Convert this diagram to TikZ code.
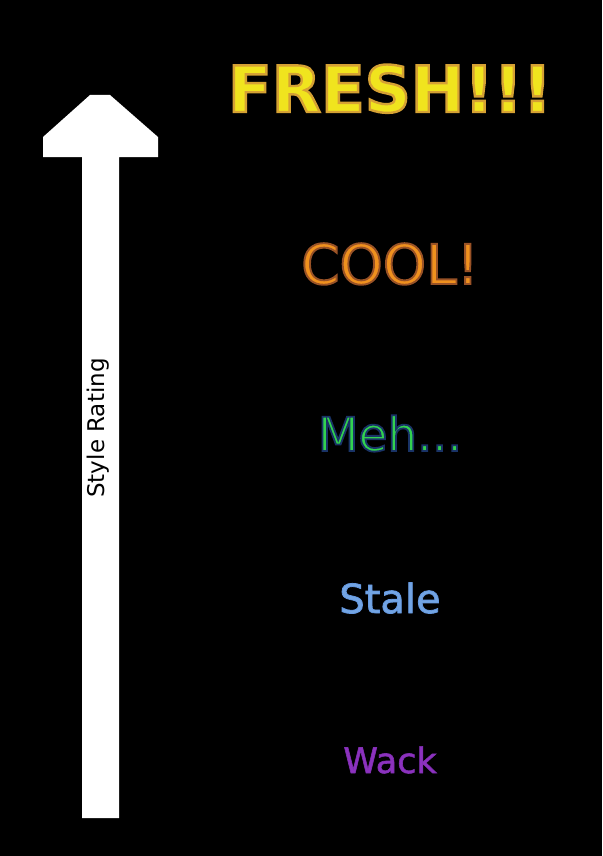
\documentclass[tikz,border=0pt]{standalone}
\usepackage{fontspec}
\setmainfont{DejaVu Sans}
\definecolor{freshfill}{RGB}{240,228,30}
\definecolor{coolfill}{RGB}{240,145,30}
\definecolor{mehfill}{RGB}{50,210,80}
\definecolor{stalefill}{RGB}{115,165,228}
\definecolor{wackfill}{RGB}{140,50,190}
\newcommand{\outlinetext}[3]{% #1 stroke rgb, #2 width, #3 text
  \special{pdf:literal direct #1 RG #2 w 2 Tr}#3\special{pdf:literal direct 0 Tr}}
\tikzset{
  rating/.style={inner sep=0pt, anchor=base},
}
\begin{document}
\begin{tikzpicture}[x=1pt,y=-1pt]
\fill[black] (0,0) rectangle (602,856);
\useasboundingbox (0,0) rectangle (602,856);
\fill[white] (82,818) -- (82,157) -- (43,157) -- (43,137) -- (90,95) -- (110,95)
  -- (158,137) -- (158,157) -- (119,157) -- (119,818) -- cycle;
\node[rotate=90, inner sep=0pt, font=\fontsize{23}{27}\selectfont, text=black] (label) at (98,428) {Style Rating};
\node[rating, font=\bfseries\fontsize{64}{70}\selectfont, text=freshfill] (fresh) at (390,112)
  {\outlinetext{0.84 0.63 0.2}{2.4}{FRESH!!!}};
\node[rating, font=\fontsize{55}{60}\selectfont, text=coolfill] (cool) at (390,284)
  {\outlinetext{0.6 0.32 0.15}{1.9}{COOL!}};
\node[rating, font=\fontsize{47}{52}\selectfont, text=mehfill] (meh) at (390,451)
  {\outlinetext{0.1 0.2 0.4}{1.8}{Meh...}};
\node[rating, font=\fontsize{40}{45}\selectfont, text=stalefill] (stale) at (390,613)
  {\outlinetext{0.4 0.6 0.88}{0.8}{Stale}};
\node[rating, font=\fontsize{35}{40}\selectfont, text=wackfill] (wack) at (390,773)
  {\outlinetext{0.5 0.18 0.7}{0.6}{Wack}};
\end{tikzpicture}
\end{document}
